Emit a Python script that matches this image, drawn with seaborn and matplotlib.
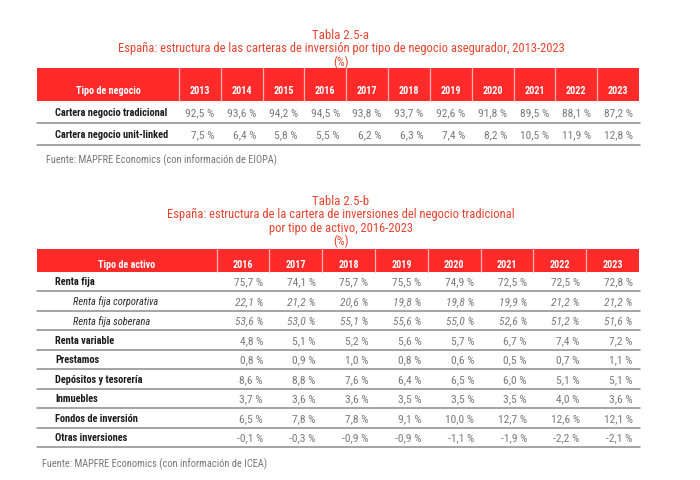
import matplotlib
matplotlib.use("Agg")
import matplotlib.pyplot as plt
from matplotlib import font_manager as fm
from matplotlib.patches import Rectangle
import seaborn as sns

# ---------------- data ----------------
title_a = "Tabla 2.5-a"
subtitle_a = ["España: estructura de las carteras de inversión por tipo de negocio asegurador, 2013-2023", "(%)"]
header_a = "Tipo de negocio"
years_a = [2013, 2014, 2015, 2016, 2017, 2018, 2019, 2020, 2021, 2022, 2023]
rows_a = ["Cartera negocio tradicional", "Cartera negocio unit-linked"]
tradicional = [92.5, 93.6, 94.2, 94.5, 93.8, 93.7, 92.6, 91.8, 89.5, 88.1, 87.2]
unit_linked = [7.5, 6.4, 5.8, 5.5, 6.2, 6.3, 7.4, 8.2, 10.5, 11.9, 12.8]
source_a = "Fuente: MAPFRE Economics (con información de EIOPA)"

title_b = "Tabla 2.5-b"
subtitle_b = ["España: estructura de la cartera de inversiones del negocio tradicional",
              "por tipo de activo, 2016-2023", "(%)"]
header_b = "Tipo de activo"
years_b = [2016, 2017, 2018, 2019, 2020, 2021, 2022, 2023]
rows_b = ["Renta fija", "Renta fija corporativa", "Renta fija soberana", "Renta variable",
          "Prestamos", "Depósitos y tesorería", "Inmuebles", "Fondos de inversión",
          "Otras inversiones"]
sub_rows_b = ["Renta fija corporativa", "Renta fija soberana"]
renta_fija = [75.7, 74.1, 75.7, 75.5, 74.9, 72.5, 72.5, 72.8]
rf_corporativa = [22.1, 21.2, 20.6, 19.8, 19.8, 19.9, 21.2, 21.2]
rf_soberana = [53.6, 53.0, 55.1, 55.6, 55.0, 52.6, 51.2, 51.6]
renta_variable = [4.8, 5.1, 5.2, 5.6, 5.7, 6.7, 7.4, 7.2]
prestamos = [0.8, 0.9, 1.0, 0.8, 0.6, 0.5, 0.7, 1.1]
depositos = [8.6, 8.8, 7.6, 6.4, 6.5, 6.0, 5.1, 5.1]
inmuebles = [3.7, 3.6, 3.6, 3.5, 3.5, 3.5, 4.0, 3.6]
fondos = [6.5, 7.8, 7.8, 9.1, 10.0, 12.7, 12.6, 12.1]
otras = [-0.1, -0.3, -0.9, -0.9, -1.1, -1.9, -2.2, -2.1]
source_b = "Fuente: MAPFRE Economics (con información de ICEA)"

values_a = [tradicional, unit_linked]
values_b = [renta_fija, rf_corporativa, rf_soberana, renta_variable, prestamos,
            depositos, inmuebles, fondos, otras]

# ---------------- style ----------------
sns.set_theme(style="white")
names = {f.name for f in fm.fontManager.ttflist}
STRETCH = "normal"
if "Liberation Sans Narrow" in names:
    FAMILY = ["Liberation Sans Narrow", "DejaVu Sans"]
elif "Roboto Condensed" in names:
    FAMILY = ["Roboto Condensed", "DejaVu Sans"]
elif any(f.name == "DejaVu Sans" and f.stretch == "condensed" for f in fm.fontManager.ttflist):
    FAMILY = ["DejaVu Sans"]
    STRETCH = "condensed"
else:
    FAMILY = ["Roboto", "DejaVu Sans"]
plt.rcParams["font.family"] = FAMILY

RED = "#FF2B2B"
TITLE_RED = "#E8432E"
VAL = "#7a7a7a"
LAB = "#1c1c1c"
LINE = "#8c8c8c"

W, H = 700, 481
fig = plt.figure(figsize=(7.0, 4.81), dpi=100)
ax = fig.add_axes([0, 0, 1, 1])
ax.set_xlim(0, W)
ax.set_ylim(H, 0)
ax.axis("off")
renderer = fig.canvas.get_renderer()


def fit(text, target, **kw):
    t = ax.text(0, 0, text, fontsize=10, fontstretch=STRETCH, **kw)
    w = t.get_window_extent(renderer).width
    t.remove()
    return 10 * target / w


fs_title = fit(subtitle_a[0], 480) * 0.92
fs_label = fit(rows_a[0], 113, fontweight="bold")
fs_value = fit("92,5 %", 29)
fs_head = fit(header_a, 65, fontweight="bold")
fs_src = fit(source_a, 231)


def fmt(v):
    return f"{v:.1f}".replace(".", ",") + " %"


def txt(x, y, s, **kw):
    kw.setdefault("fontstretch", STRETCH)
    ax.text(x, y, s, va="center", **kw)


def table(title, subs, title_y, header, years, rows, values, band, first_right,
          row_h, src, src_xy, sub_rows=()):
    left, right = 37, 639
    # titles
    txt(341, title_y, title, ha="center", color=TITLE_RED, fontsize=fs_title * 1.03)
    for i, s in enumerate(subs):
        txt(341, title_y + 13.3 * (i + 1), s, ha="center", color=TITLE_RED, fontsize=fs_title)
    # header band
    top, bot = band
    ax.add_patch(Rectangle((left, top), right - left, bot - top, color=RED, lw=0, zorder=1))
    cw = (right - first_right) / len(years)
    edges = [first_right + cw * i for i in range(len(years))]
    for e in edges:
        ax.plot([e, e], [top, bot], color="#ffb3b3", lw=0.9, zorder=2)
    hy = top + (bot - top) * 0.66
    txt((left + first_right) / 2, hy, header, ha="center", color="white",
        fontweight="bold", fontsize=fs_head)
    for e, yr in zip(edges, years):
        txt(e + cw / 2, hy, str(yr), ha="center", color="white", fontweight="bold",
            fontsize=fs_head)
    # body
    y0 = bot
    for r, (name, vals) in enumerate(zip(rows, values)):
        yc = y0 + row_h * (r + 0.5)
        sub = name in sub_rows
        if sub:
            txt(left + 36, yc, name, ha="left", color="#2a2a2a", style="italic",
                fontsize=fs_label)
        else:
            txt(left + 18, yc, name, ha="left", color=LAB, fontweight="bold",
                fontsize=fs_label)
        for e, v in zip(edges, vals):
            txt(e + cw - 6.5, yc, fmt(v), ha="right", color=VAL, fontsize=fs_value,
                style="italic" if sub else "normal")
        yl = y0 + row_h * (r + 1)
        ax.plot([left, right + 1], [yl, yl], color=LINE, lw=1.1, zorder=2)
    txt(src_xy[0], src_xy[1], src, ha="left", color="#777777", fontsize=fs_src)


table(title_a, subtitle_a, 35.5, header_a, years_a, rows_a, values_a, (69.3, 101.8),
      179, 22.1, source_a, (46, 160))
table(title_b, subtitle_b, 201.5, header_b, years_b, rows_b, values_b, (250, 272.7),
      216.7, 19.5, source_b, (42.5, 464), sub_rows=sub_rows_b)

fig.savefig("out.png", dpi=100, facecolor="white")
